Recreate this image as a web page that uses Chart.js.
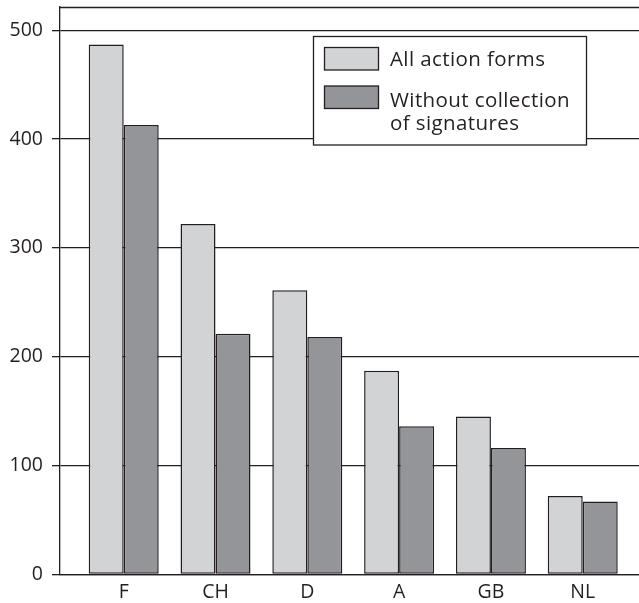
<!DOCTYPE html>
<html>
<head>
<meta charset="utf-8">
<script src="https://cdn.jsdelivr.net/npm/chart.js@4/dist/chart.umd.min.js"></script>
<style>
  html, body { margin: 0; padding: 0; background: #fff; }
  #wrap { width: 639px; height: 603px; position: relative; }
</style>
</head>
<body>
<div id="wrap"><canvas id="c" width="639" height="603"></canvas></div>
<script>
// Countries and number of protest events per series
const categories = ['F', 'CH', 'D', 'A', 'GB', 'NL'];
const allActionForms = [487, 322, 261, 187, 145, 72];
const withoutSignatures = [413, 221, 218, 136, 116, 67];
const yTicks = [0, 100, 200, 300, 400, 500];

const seriesNames = ['All action forms', ['Without collection', 'of signatures']];
const fills = ['#d2d3d5', '#939598'];
const ink = '#231f20';
const FONT = '"Open Sans", "DejaVu Sans", sans-serif';

const toPoints = arr => arr.map((v, i) => ({ x: i, y: v }));

const noEdgePadding = s => {
  s.paddingTop = 0; s.paddingBottom = 0; s.paddingLeft = 0; s.paddingRight = 0;
};

// Frame line along the top of the plot, and the boxed legend
const framePlugin = {
  id: 'frameAndLegend',
  afterDraw(chart) {
    const { ctx, chartArea } = chart;
    ctx.save();
    ctx.strokeStyle = ink;
    ctx.lineWidth = 1.3;
    ctx.beginPath();
    ctx.moveTo(chartArea.left, chartArea.top + 0.5);
    ctx.lineTo(chartArea.right, chartArea.top + 0.5);
    ctx.stroke();

    // legend box
    const bx = 313.5, by = 36.5, bw = 273, bh = 108.5;
    ctx.fillStyle = '#fff';
    ctx.fillRect(bx, by, bw, bh);
    ctx.strokeRect(bx, by, bw, bh);

    const swatches = [47.5, 86];
    const baselines = [[65.7], [106.7, 129.5]];
    ctx.font = '20.5px ' + FONT;
    ctx.letterSpacing = '0.4px';
    ctx.textBaseline = 'alphabetic';
    chart.data.datasets.forEach((ds, i) => {
      ctx.fillStyle = ds.backgroundColor;
      ctx.fillRect(324.5, swatches[i], 54, 22.5);
      ctx.lineWidth = 1.3;
      ctx.strokeStyle = ink;
      ctx.strokeRect(324.5, swatches[i], 54, 22.5);
      ctx.fillStyle = ink;
      const lines = Array.isArray(seriesNames[i]) ? seriesNames[i] : [seriesNames[i]];
      lines.forEach((t, k) => ctx.fillText(t, 390, baselines[i][k]));
    });
    ctx.restore();
  }
};

new Chart(document.getElementById('c'), {
  type: 'bar',
  data: {
    datasets: [
      {
        label: 'All action forms',
        data: toPoints(allActionForms),
        backgroundColor: fills[0],
        borderColor: ink,
        borderWidth: 1.5,
        borderSkipped: false
      },
      {
        label: 'Without collection of signatures',
        data: toPoints(withoutSignatures),
        backgroundColor: fills[1],
        borderColor: ink,
        borderWidth: 1.5,
        borderSkipped: false
      }
    ]
  },
  options: {
    responsive: false,
    animation: false,
    devicePixelRatio: 1,
    layout: { padding: { top: 7, right: 0, left: 0, bottom: 0 } },
    categoryPercentage: 0.7625,
    barPercentage: 1.0,
    plugins: {
      legend: { display: false },
      tooltip: { enabled: false }
    },
    scales: {
      x: {
        type: 'linear',
        offset: false,
        bounds: 'data',
        min: -0.694,
        max: 5.613,
        afterBuildTicks: s => { s.ticks = categories.map((_, i) => ({ value: i })); },
        afterFit: s => { s.height = 28.7; noEdgePadding(s); },
        grid: { display: false, drawTicks: false },
        border: { display: true, color: ink, width: 1.3 },
        ticks: {
          autoSkip: false,
          maxRotation: 0,
          padding: 6,
          color: ink,
          font: { family: FONT, size: 19.5 },
          callback: v => categories[v] ?? ''
        }
      },
      y: {
        min: 0,
        max: 521.4,
        afterBuildTicks: s => { s.ticks = yTicks.map(v => ({ value: v })); },
        afterFit: s => { s.width = 60; noEdgePadding(s); },
        grid: { color: ink, lineWidth: 1.3, tickLength: 8, tickColor: ink, drawTicks: true },
        border: { display: true, color: ink, width: 1.3 },
        ticks: {
          padding: 9,
          color: ink,
          font: { family: FONT, size: 19.5 }
        }
      }
    }
  },
  plugins: [framePlugin]
});
</script>
</body>
</html>
